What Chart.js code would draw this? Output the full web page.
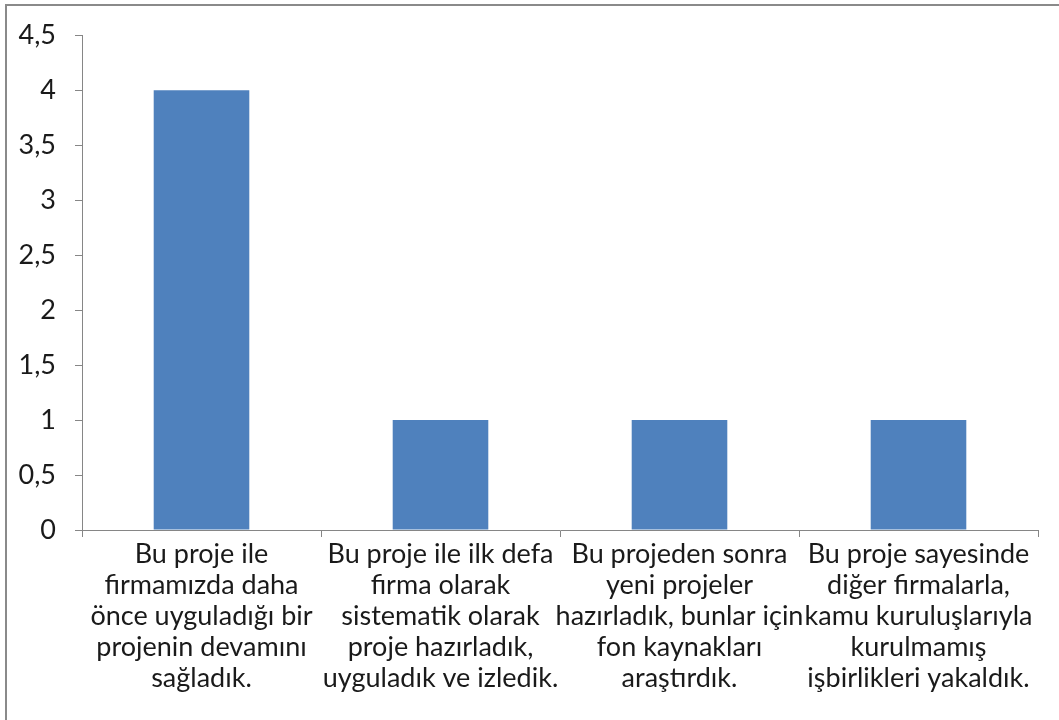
<!DOCTYPE html>
<html>
<head>
<meta charset="utf-8">
<script src="https://cdn.jsdelivr.net/npm/chart.js@4"></script>
<style>
    html, body { margin: 0; padding: 0; background: #fff; }
    #wrap { position: relative; width: 1059px; height: 720px; overflow: hidden; }
    #frame {
        position: absolute; left: 5px; top: 4px; right: -10px; bottom: -10px;
        border-left: 2px solid #8a8a8a; border-top: 2px solid #8a8a8a;
        pointer-events: none;
    }
    canvas { position: absolute; left: 0; top: 0; }
</style>
</head>
<body>
<div id="wrap">
    <canvas id="chart" width="1059" height="720"></canvas>
    <div id="frame"></div>
</div>
<script>
// categories (one array of lines per label)
const categories = [
    ['Bu proje ile', 'firmamızda daha', 'önce uyguladığı bir', 'projenin devamını', 'sağladık.'],
    ['Bu proje ile ilk defa', 'firma olarak', 'sistematik olarak', 'proje hazırladık,', 'uyguladık ve izledik.'],
    ['Bu projeden sonra', 'yeni projeler', 'hazırladık, bunlar için', 'fon kaynakları', 'araştırdık.'],
    ['Bu proje sayesinde', 'diğer firmalarla,', 'kamu kuruluşlarıyla', 'kurulmamış', 'işbirlikleri yakaldık.']
];
const values = [4, 1, 1, 1];
const yMin = 0;
const yMax = 4.5;
const yStep = 0.5;

const axisColor = '#868686';
const fontFamily = 'Lato, "Open Sans", sans-serif';

function initChart() {
    const ctx = document.getElementById('chart').getContext('2d');
    new Chart(ctx, {
        type: 'bar',
        data: {
            labels: categories,
            datasets: [{
                data: values,
                backgroundColor: '#4F81BD',
                borderWidth: 0,
                barPercentage: 0.4,
                categoryPercentage: 1
            }]
        },
        options: {
            responsive: false,
            animation: false,
            layout: { padding: { top: 35, right: 21, left: 0, bottom: 0 } },
            plugins: {
                legend: { display: false },
                tooltip: { enabled: false }
            },
            scales: {
                x: {
                    grid: {
                        offset: true,
                        drawOnChartArea: false,
                        color: axisColor,
                        tickLength: 7
                    },
                    border: { color: axisColor, width: 1 },
                    ticks: {
                        color: '#1a1a1a',
                        font: { family: fontFamily, size: 27, lineHeight: '31px' },
                        padding: 2,
                        maxRotation: 0,
                        autoSkip: false
                    },
                    afterFit: scale => { scale.height = 190; }
                },
                y: {
                    min: yMin,
                    max: yMax,
                    grid: {
                        drawOnChartArea: false,
                        color: axisColor,
                        tickLength: 7
                    },
                    border: { color: axisColor, width: 1 },
                    ticks: {
                        stepSize: yStep,
                        color: '#1a1a1a',
                        padding: 19,
                        font: { family: fontFamily, size: 27 },
                        callback: v => String(v).replace('.', ',')
                    },
                    afterFit: scale => { scale.width = 82; }
                }
            }
        }
    });
}

document.addEventListener('DOMContentLoaded', initChart);
</script>
</body>
</html>
